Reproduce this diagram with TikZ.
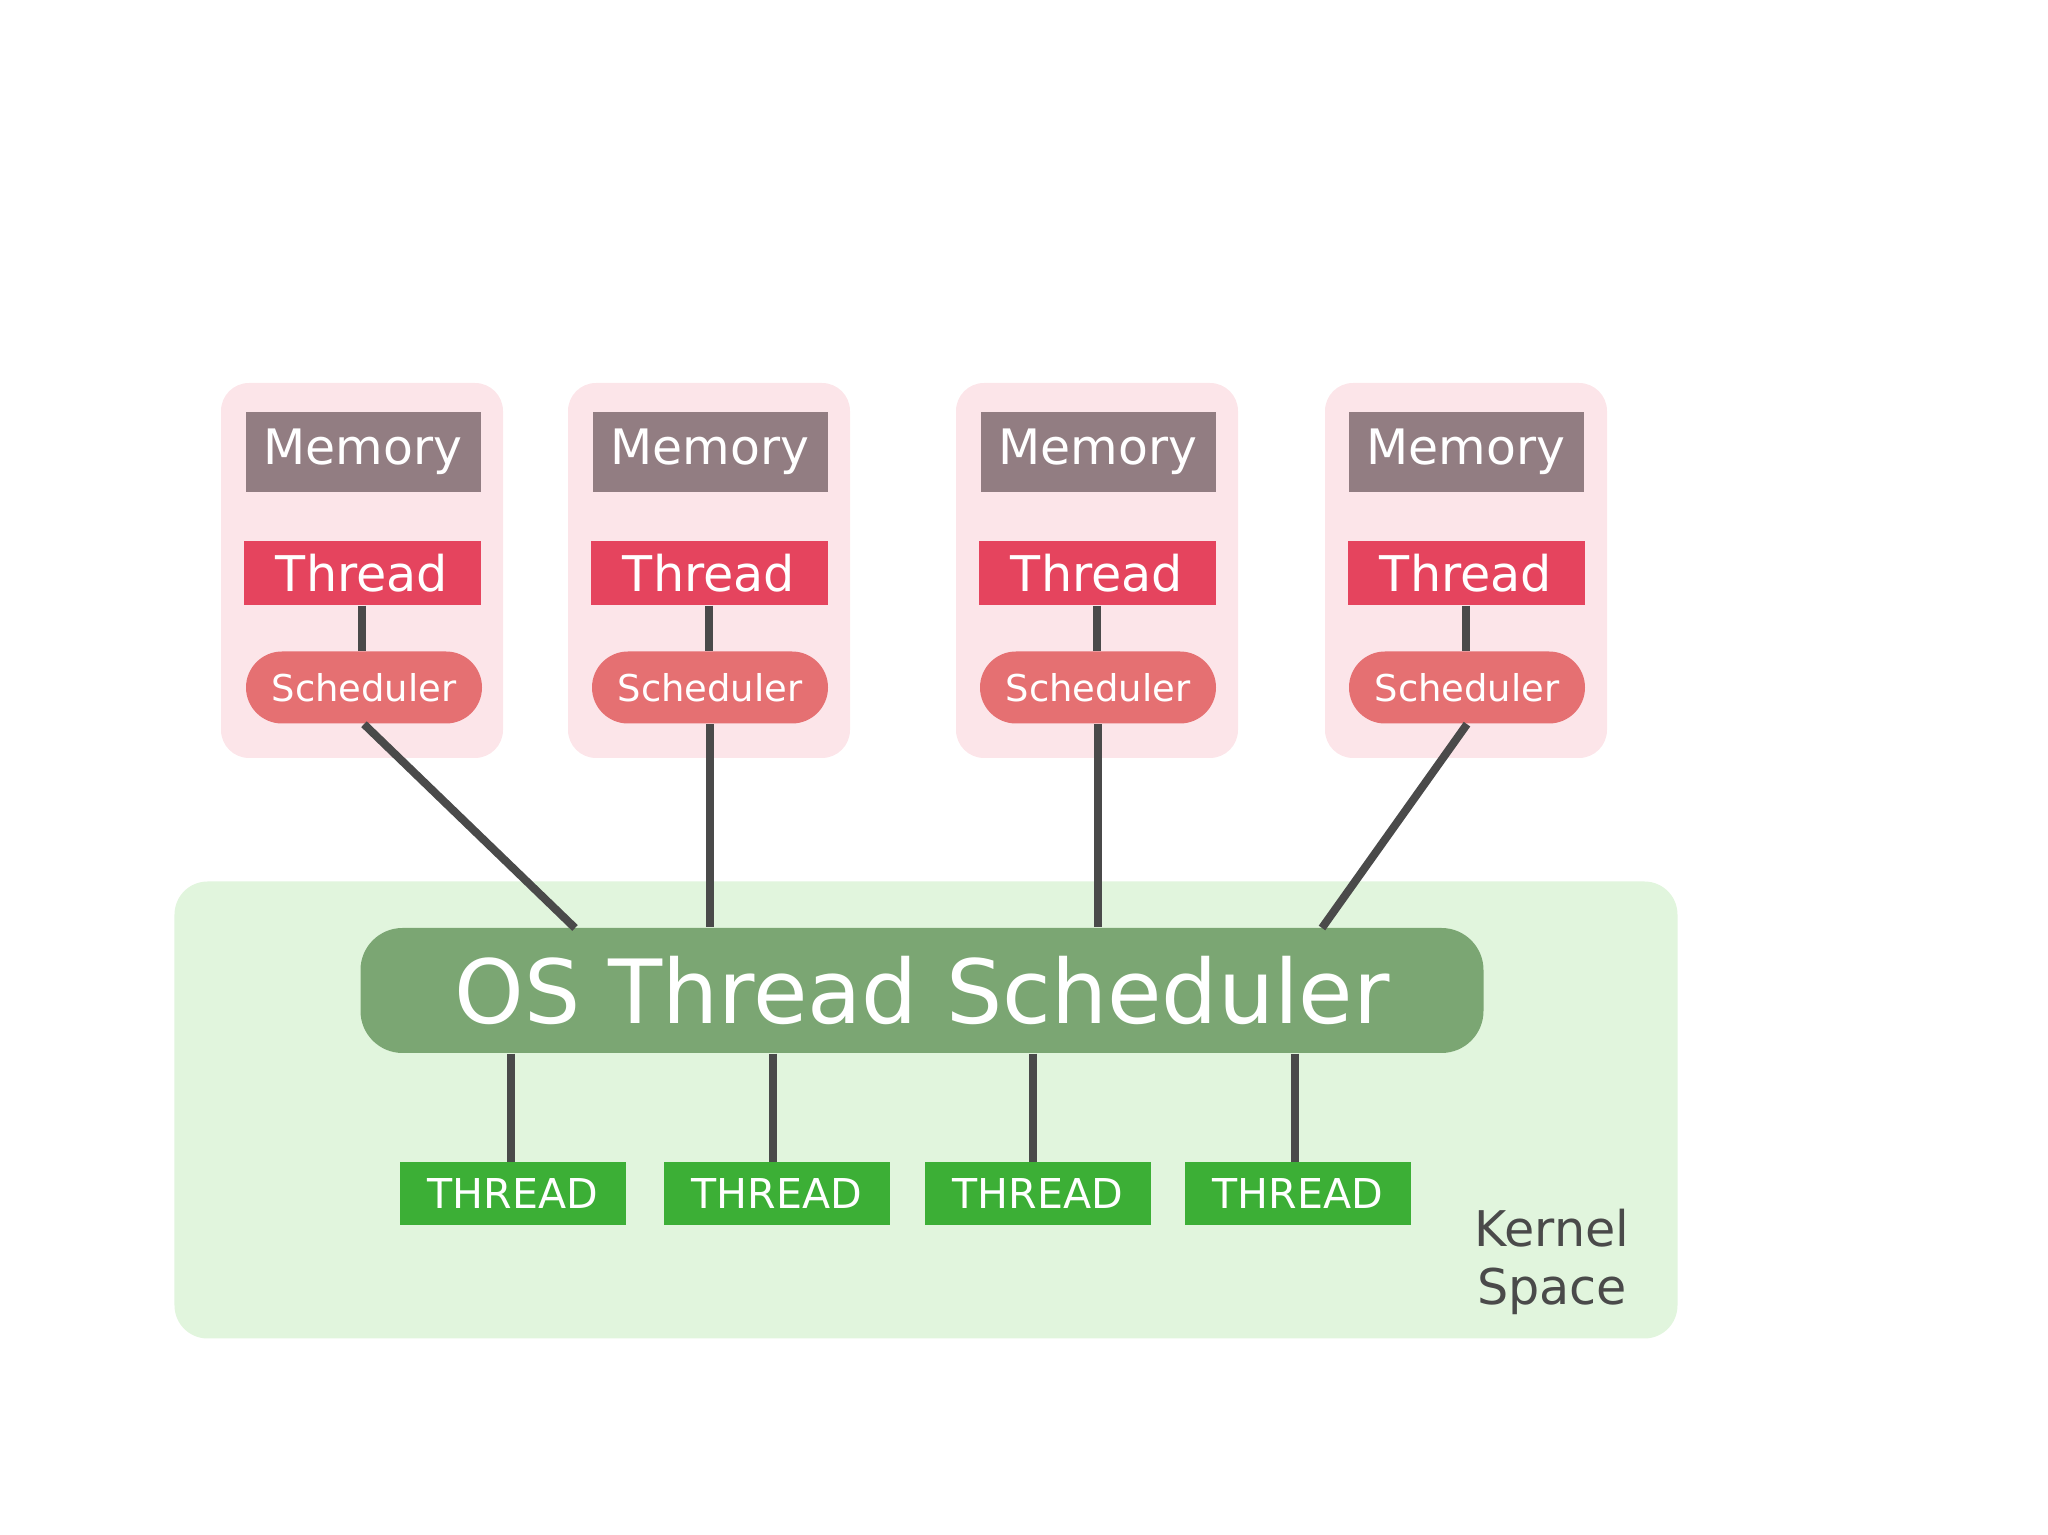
\documentclass[tikz,border=0pt]{standalone}
\usepackage{fontspec}
\setmainfont{DejaVu Sans}
\usepackage{tikz}

\definecolor{procbg}{HTML}{FCE5E9}
\definecolor{memgray}{HTML}{927D82}
\definecolor{threadred}{HTML}{E5445E}
\definecolor{schedred}{HTML}{E57072}
\definecolor{kernelbg}{HTML}{E1F5DD}
\definecolor{osgreen}{HTML}{7BA673}
\definecolor{kthread}{HTML}{3CAF36}
\definecolor{linkgray}{HTML}{4A4A4A}

\tikzset{
  procbox/.style = {fill = procbg, rounded corners = 0.28cm, inner sep = 0,
    minimum width = 2.82cm, minimum height = 3.75cm},
  membox/.style = {fill = memgray, text = white, inner sep = 0,
    minimum width = 2.35cm, minimum height = 0.80cm,
    font = \fontsize{13.9}{16}\selectfont},
  threadbox/.style = {fill = threadred, text = white, inner sep = 0,
    minimum width = 2.37cm, minimum height = 0.64cm,
    font = \fontsize{14}{16}\selectfont},
  schedbox/.style = {fill = schedred, text = white, inner sep = 0,
    rounded corners = 0.36cm, minimum width = 2.36cm, minimum height = 0.72cm,
    font = \fontsize{10.5}{12}\selectfont},
  kthreadbox/.style = {fill = kthread, text = white, inner sep = 0,
    minimum width = 2.26cm, minimum height = 0.63cm,
    font = \fontsize{11.7}{14}\selectfont},
  link/.style = {draw = linkgray, line width = 0.08cm}
}

\begin{document}
\begin{tikzpicture}
    \useasboundingbox (0, 0) rectangle (20.48, 15.35);

    % kernel side
    \node[fill = kernelbg, rounded corners = 0.33cm, inner sep = 0,
      minimum width = 15.03cm, minimum height = 4.57cm] (kernel) at (9.26, 4.25) {};
    \node[fill = osgreen, text = white, rounded corners = 0.42cm, inner sep = 0,
      minimum width = 11.23cm, minimum height = 1.25cm,
      font = \fontsize{25.2}{30}\selectfont] (os) at (9.22, 5.445) {OS Thread Scheduler};
    \node[text = linkgray, align = center, font = \fontsize{14}{16.5}\selectfont]
      (kspace) at (15.52, 2.73) {Kernel\\Space};

    \node[kthreadbox] (kt1) at (5.13, 3.41) {THREAD};
    \node[kthreadbox] (kt2) at (7.77, 3.41) {THREAD};
    \node[kthreadbox] (kt3) at (10.38, 3.41) {THREAD};
    \node[kthreadbox] (kt4) at (12.98, 3.41) {THREAD};

    % processes
    \node[procbox] (p1) at (3.62, 9.645) {};
    \node[procbox] (p2) at (7.09, 9.645) {};
    \node[procbox] (p3) at (10.97, 9.645) {};
    \node[procbox] (p4) at (14.66, 9.645) {};

    \node[membox] (m1) at (3.63, 10.83) {Memory};
    \node[membox] (m2) at (7.10, 10.83) {Memory};
    \node[membox] (m3) at (10.98, 10.83) {Memory};
    \node[membox] (m4) at (14.66, 10.83) {Memory};

    \node[threadbox] (t1) at (3.62, 9.62) {Thread};
    \node[threadbox] (t2) at (7.09, 9.62) {Thread};
    \node[threadbox] (t3) at (10.97, 9.62) {Thread};
    \node[threadbox] (t4) at (14.66, 9.62) {Thread};

    \node[schedbox] (s1) at (3.64, 8.475) {Scheduler};
    \node[schedbox] (s2) at (7.10, 8.475) {Scheduler};
    \node[schedbox] (s3) at (10.98, 8.475) {Scheduler};
    \node[schedbox] (s4) at (14.67, 8.475) {Scheduler};

    \coordinate (j1) at (5.75, 6.07);
    \coordinate (j4) at (13.22, 6.07);

    % links
    \draw[link] (t1.south) -- (t1.south |- s1.north);
    \draw[link] (t2.south) -- (t2.south |- s2.north);
    \draw[link] (t3.south) -- (t3.south |- s3.north);
    \draw[link] (t4.south) -- (t4.south |- s4.north);

    \draw[link] (s1.south) -- (j1);
    \draw[link] (s2.south) -- (os.north -| s2.south);
    \draw[link] (s3.south) -- (os.north -| s3.south);
    \draw[link] (s4.south) -- (j4);

    \draw[link] (os.south -| 5.11, 0) -- (kt1.north -| 5.11, 0);
    \draw[link] (os.south -| 7.73, 0) -- (kt2.north -| 7.73, 0);
    \draw[link] (os.south -| 10.33, 0) -- (kt3.north -| 10.33, 0);
    \draw[link] (os.south -| 12.95, 0) -- (kt4.north -| 12.95, 0);
  \end{tikzpicture}
\end{document}
